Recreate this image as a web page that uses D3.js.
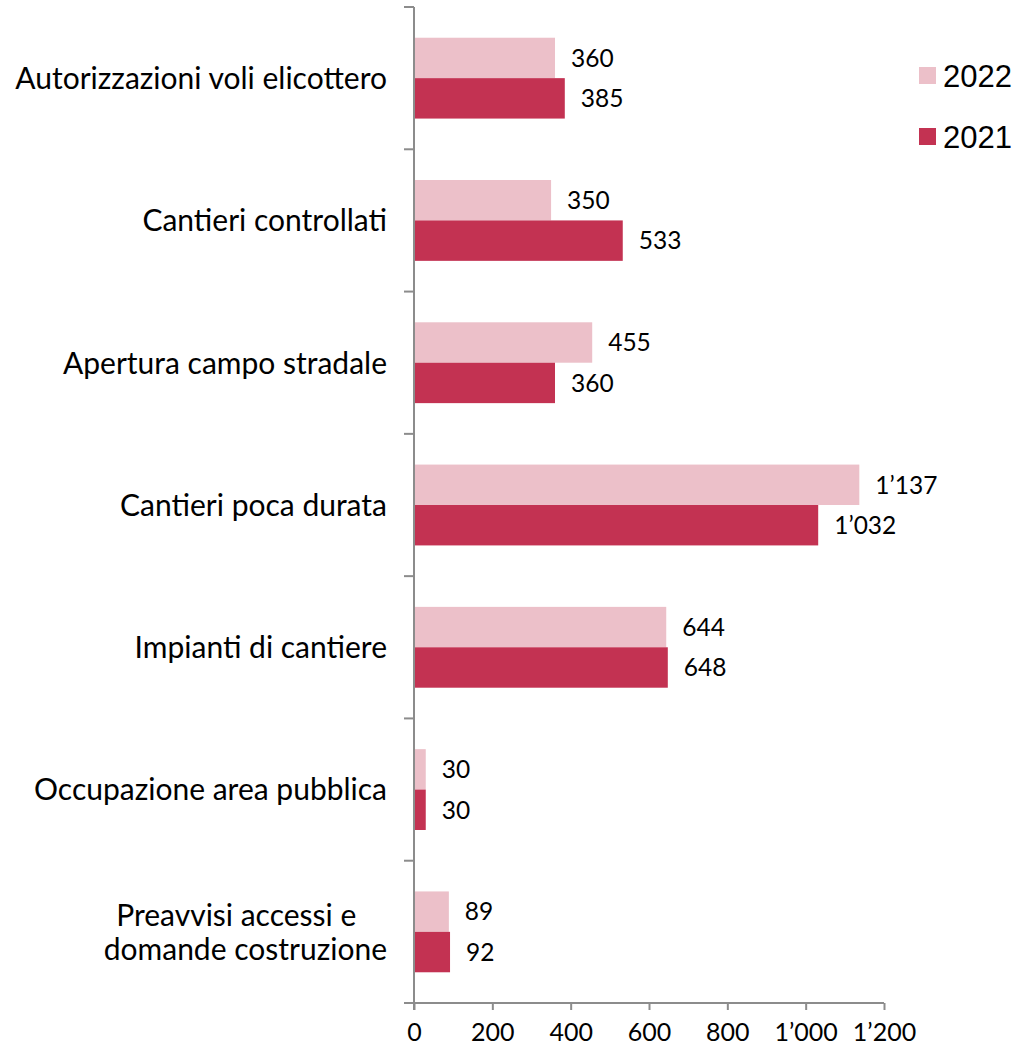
<!DOCTYPE html>
<html><head><meta charset="utf-8">
<script src="https://cdn.jsdelivr.net/npm/d3@7"></script>
<style>body{margin:0;background:#fff;}</style>
</head><body>
<svg id="c" width="1020" height="1049"></svg>
<script>
const categories = ["Autorizzazioni voli elicottero","Cantieri controllati","Apertura campo stradale","Cantieri poca durata","Impianti di cantiere","Occupazione area pubblica","Preavvisi accessi e\u00a0\u00a0\u00a0\u00a0\ndomande costruzione"];
const series = ["2022","2021"];
const values2022 = [360,350,455,1137,644,30,89];
const values2021 = [385,533,360,1032,648,30,92];
const xTicks = [0,200,400,600,800,1000,1200];
const colors = {"2022":"#ecc0c9","2021":"#c33252"};

(function(){
const svg = d3.select("#c");
const pl = 414, pr = 884, pt = 7, pb = 1003;
const font = "Lato, 'Noto Sans', sans-serif";
const fmt = v => { const s = String(v); return s.length > 3 ? s.slice(0, s.length-3) + "\u2019" + s.slice(-3) : s; };

const x = d3.scaleLinear().domain([0,1200]).range([pl,pr]);
const y = d3.scaleBand().domain(categories).range([pt,pb]).paddingInner(0).paddingOuter(0);
const yi = d3.scaleBand().domain(series).range([0, y.bandwidth()]).paddingInner(0).paddingOuter(0.76);

const data = categories.map((c,i)=>({c, vals:[{s:"2022",v:values2022[i]},{s:"2021",v:values2021[i]}]}));

const g = svg.selectAll("g.cat").data(data).join("g").attr("class","cat").attr("transform", d=>`translate(0,${y(d.c)})`);
g.selectAll("rect").data(d=>d.vals).join("rect")
  .attr("x", x(0)).attr("y", d=>yi(d.s)).attr("height", yi.bandwidth())
  .attr("width", d=>x(d.v)-x(0)).attr("fill", d=>colors[d.s]);
g.selectAll("text.val").data(d=>d.vals).join("text").attr("class","val")
  .attr("x", d=>x(d.v)+16).attr("y", d=>yi(d.s)+yi.bandwidth()/2).attr("dy","0.36em")
  .attr("font-family", font).attr("font-size", 24.5).attr("fill","#000")
  .text(d=>fmt(d.v));

g.each(function(d){
  const lines = d.c.split("\n");
  const t = d3.select(this).append("text").attr("text-anchor","end")
    .attr("font-family", font).attr("font-size", 30).attr("fill","#000");
  const cy = y.bandwidth()/2;
  const lh = 34;
  lines.forEach((ln,k)=>{
    t.append("tspan").attr("x", 387).attr("y", cy + (k-(lines.length-1)/2)*lh).attr("dy","0.36em").text(ln);
  });
});

const axisColor = "#8c8c8c";
svg.append("line").attr("x1",pl).attr("x2",pl).attr("y1",pt).attr("y2",pb+7).attr("stroke",axisColor).attr("stroke-width",2);
const boundaries = categories.map(c=>y(c)).concat([pb]);
svg.selectAll("line.yt").data(boundaries).join("line").attr("class","yt")
  .attr("x1",pl-10).attr("x2",pl).attr("y1",d=>d).attr("y2",d=>d).attr("stroke",axisColor).attr("stroke-width",2);

const xa = svg.append("g").attr("transform",`translate(0,${pb})`)
  .call(d3.axisBottom(x).tickValues(xTicks).tickSize(7).tickPadding(13).tickSizeOuter(0).tickFormat(fmt));
xa.select(".domain").attr("stroke",axisColor).attr("stroke-width",2).attr("d",`M${pl-10},0H${pr}`);
xa.selectAll(".tick line").attr("stroke",axisColor).attr("stroke-width",2);
xa.selectAll(".tick text").attr("font-family",font).attr("font-size",25).attr("fill","#000");

const lg = svg.append("g");
series.forEach((s,i)=>{
  const yy = 67 + i*61;
  lg.append("rect").attr("x",919).attr("y",yy).attr("width",17).attr("height",17).attr("fill",colors[s]);
  lg.append("text").attr("x",943).attr("y",yy+8.5).attr("dy","0.36em").attr("font-family","'Liberation Sans', Arial, sans-serif").attr("font-size",31).attr("fill","#000").text(s);
});
})();
</script>
</body></html>
